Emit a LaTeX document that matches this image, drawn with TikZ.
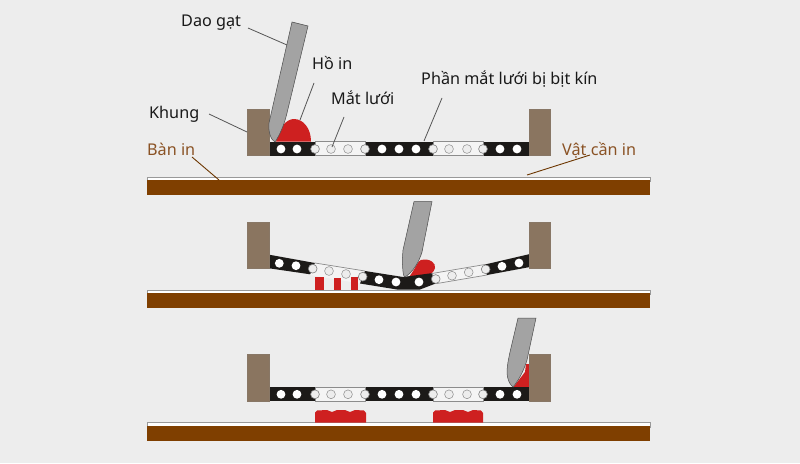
\documentclass[tikz,border=0pt]{standalone}
\usepackage{fontspec}
\setmainfont{Noto Sans}
\definecolor{bgc}{HTML}{EDEDED}
\definecolor{woodc}{HTML}{7F3F00}
\definecolor{framec}{HTML}{8A7560}
\definecolor{inkc}{HTML}{CE2020}
\definecolor{meshc}{HTML}{1C1A18}
\definecolor{bladec}{HTML}{A3A3A3}
\definecolor{lblbrown}{HTML}{8A5224}
\definecolor{linec}{HTML}{555555}
\tikzset{
 framebox/.style={fill=framec,draw=framec!80!gray,line width=.5pt},
 wood/.style={fill=woodc,draw=none},
 tabletop/.style={fill=white,draw=gray!80,line width=.8pt},
 blackmesh/.style={fill=meshc,draw=none},
 whitemesh/.style={fill=bgc!60!white,draw=gray!90,line width=.7pt},
 whitefill/.style={fill=bgc!60!white,draw=none},
 holeopen/.style={fill=white,draw=none},
 holeedge/.style={fill=bgc,draw=gray,line width=.6pt},
 holeclosed/.style={fill=bgc,draw=gray!90,line width=.5pt},
 ink/.style={fill=inkc,draw=none},
 blade/.style={fill=bladec,draw=gray!60!black,line width=.5pt},
 leader/.style={draw=linec,line width=.8pt},
 bleader/.style={draw=woodc!85!black,line width=.9pt},
 lbl/.style={font=\fontsize{16.2}{19}\selectfont,text=black!90,anchor=base west,inner sep=0pt},
 blbl/.style={lbl,text=lblbrown}
}
\newcommand{\flatmesh}[2]{% top y, dots y
 \fill[blackmesh] (269,#1) rectangle (529,{#1+14.3});
 \draw[whitemesh] (315,#1) rectangle (365,{#1+14.3});
 \draw[whitemesh] (433,#1) rectangle (483,{#1+14.3});
 \foreach \x in {281,297,382,399,416,500,517} \fill[holeopen] (\x,#2) circle (4.4);
 \foreach \x in {315,365,433,483} \draw[holeedge] (\x,#2) circle (4.4);
 \foreach \x in {331,348,449,467} \draw[holeclosed] (\x,#2) circle (4.4);
}
\begin{document}
\begin{tikzpicture}[x=1pt,y=-1pt]
\fill[bgc] (0,0) rectangle (800,463);
\useasboundingbox (0,0) rectangle (800,463);
% tables
\draw[tabletop] (147.5,177.5) rectangle (650,181);
\fill[wood] (147,180) rectangle (650,194.5);
\draw[tabletop] (147.5,290) rectangle (650,294);
\fill[wood] (147,293) rectangle (650,307.5);
\draw[tabletop] (147.5,422.5) rectangle (650,427);
\fill[wood] (147,426) rectangle (650,441);
% panel 1
\fill[ink] (276,141.5) .. controls (279,128) and (286,119) .. (294,119) .. controls (303,119) and (311,128) .. (311,141.5) -- cycle;
\flatmesh{141.5}{149}
\draw[framebox] (247.5,109.5) rectangle (269,155.5);
\draw[framebox] (529,109.5) rectangle (550,155.5);
\draw[blade] (292,22) -- (308,26) -- (287,113) .. controls (284,126) and (279,136) .. (275,142) .. controls (271,140) and (268,132) .. (269,123) -- cycle;
% panel 2
\fill[ink] (409,277) .. controls (416,268) and (418,260) .. (421,260) .. controls (430,258) and (436,263) .. (435,268) .. controls (434,272) and (431,274) .. (429,275) -- (424,279) -- cycle;
\fill[blackmesh] (268,254.5) -- (315,263) -- (315,275) -- (267,268) -- cycle;
\fill[whitefill] (315,263) -- (365,271) -- (360,283.5) -- (310,275) -- cycle;
\draw[leader,draw=gray!90,line width=.7pt] (315,263) -- (365,271);
\fill[blackmesh] (365,271) -- (403,277) -- (433,273) -- (437,283) -- (420,289.5) -- (397,289.5) -- (360,283.5) -- cycle;
\draw[whitemesh] (432,273.5) -- (485,264.5) -- (487,275) -- (437,283.5) -- cycle;
\fill[blackmesh] (485,264.5) -- (530,254) -- (530,267) -- (487,275) -- cycle;
\foreach \x/\y in {279.3/263.3,296/265.7,379/279.7,396/282,419/282,502/266.3,519/263} \fill[holeopen] (\x,\y) circle (4.4);
\foreach \x/\y in {312.7/268.7,362.7/276.7,435.7/279,485.7/269.3} \draw[holeedge] (\x,\y) circle (4.4);
\foreach \x/\y in {329/271,346/274,452/275.7,468.7/272.3} \draw[holeclosed] (\x,\y) circle (4.4);
\fill[ink] (314.5,277) rectangle (324,290);
\fill[ink] (334,278) rectangle (341,290);
\fill[ink] (351,277) rectangle (358,290);
\draw[framebox] (247.5,222) rectangle (269,268);
\draw[framebox] (529,222) rectangle (550,268);
\draw[blade] (414,201.5) -- (432,201.5) -- (422,252) .. controls (419,262) and (413,272) .. (405,277) .. controls (403,276) and (403,272) .. (402.5,265) .. controls (402,258) and (403,252) .. (403,250) -- cycle;
% panel 3
\fill[ink] (513.5,387) -- (525,372) -- (526,364) -- (529.5,364) -- (529.5,387) -- cycle;
\flatmesh{387}{394.3}
\draw[framebox] (247.5,354.5) rectangle (269,401.5);
\draw[framebox] (529,354.5) rectangle (550,401.5);
\draw[blade] (518,318) -- (536,318) -- (527,360) .. controls (524,370) and (519,380) .. (513,387) .. controls (509,384) and (507,378) .. (507,372) .. controls (507,365) and (509,357) .. (510,352) -- cycle;
\foreach \a/\b in {315/366,433/483} {
 \fill[ink] (\a,422.7) -- (\a,412.5) -- ({\a+2},410.5) -- ({\a+12},410) .. controls ({\a+14},410) and ({\a+15},412) .. ({\a+17},412) .. controls ({\a+19},412) and ({\a+20},410) .. ({\a+22},410) -- ({\a+30},410) .. controls ({\a+32},410) and ({\a+33},412) .. ({\a+35},412) .. controls ({\a+37},412) and ({\a+38},410) .. ({\a+40},410) -- ({\b-2},410.5) -- (\b,413) -- (\b,422.7) -- cycle;
}
% labels
\node[lbl] (dao) at (181,27) {Dao gạt};
\node[lbl] (ho) at (312,69) {Hồ in};
\node[lbl] (mat) at (331,104) {Mắt lưới};
\node[lbl] (khung) at (149,118) {Khung};
\node[blbl] (ban) at (147,155) {Bàn in};
\node[lbl] (phan) at (421,84) {Phần mắt lưới bị bịt kín};
\node[blbl] (vat) at (562,155) {Vật cần in};
% leader ends
\coordinate (daoS) at (248,28); \coordinate (daoE) at (287,45);
\coordinate (hoS) at (314,83); \coordinate (hoE) at (300,120);
\coordinate (matS) at (344,117); \coordinate (matE) at (332,147);
\coordinate (khungS) at (209,114); \coordinate (khungE) at (247,132);
\coordinate (banS) at (192,157); \coordinate (banE) at (219,180);
\coordinate (phanS) at (442,98); \coordinate (phanE) at (424,141);
\coordinate (vatS) at (590,155); \coordinate (vatE) at (527,175);
\draw[leader] (daoS) -- (daoE);
\draw[leader] (hoS) -- (hoE);
\draw[leader] (matS) -- (matE);
\draw[leader] (khungS) -- (khungE);
\draw[leader] (phanS) -- (phanE);
\draw[bleader] (banS) -- (banE);
\draw[bleader] (vatS) -- (vatE);
\end{tikzpicture}
\end{document}
